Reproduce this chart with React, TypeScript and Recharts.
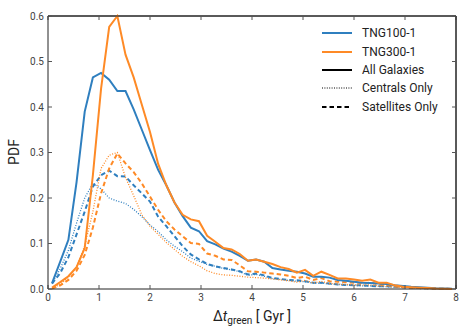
import React from 'react';
import { LineChart, Line, XAxis, YAxis, Legend, ReferenceLine } from 'recharts';

// bin centres of the green-valley time histogram (Gyr)
const tGreen = [
  0.08, 0.24, 0.4, 0.56, 0.72, 0.88, 1.04, 1.2, 1.36, 1.52,
  1.68, 1.84, 2.0, 2.16, 2.32, 2.48, 2.64, 2.8, 2.96, 3.12,
  3.28, 3.44, 3.6, 3.76, 3.92, 4.08, 4.24, 4.4, 4.56, 4.72,
  4.88, 5.04, 5.2, 5.36, 5.52, 5.68, 5.84, 6.0, 6.16, 6.32,
  6.48, 6.64, 6.8, 6.96, 7.12, 7.28, 7.44, 7.6, 7.76, 7.92,
];

const tng100All = [
  0.013, 0.06, 0.108, 0.235, 0.39, 0.465, 0.475, 0.46, 0.435, 0.435,
  0.395, 0.35, 0.305, 0.262, 0.228, 0.19, 0.16, 0.135, 0.127, 0.105,
  0.098, 0.089, 0.082, 0.073, 0.062, 0.065, 0.06, 0.046, 0.043, 0.04,
  0.038, 0.034, 0.027, 0.027, 0.025, 0.02, 0.018, 0.016, 0.014, 0.013,
  0.012, 0.011, 0.008, 0.0066, 0.005, 0.004, 0.003, 0.0015, 0.001, 0.0005,
];
const tng100Cen = [
  0.012, 0.045, 0.085, 0.145, 0.2, 0.232, 0.22, 0.2, 0.193, 0.188,
  0.175, 0.159, 0.141, 0.126, 0.108, 0.094, 0.082, 0.068, 0.061, 0.054,
  0.05, 0.045, 0.042, 0.038, 0.03, 0.032, 0.028, 0.023, 0.021, 0.019,
  0.017, 0.016, 0.013, 0.013, 0.011, 0.01, 0.009, 0.008, 0.007, 0.007,
  0.006, 0.005, 0.004, 0.004, 0.003, 0.002, 0.001, 0.001, 0.0005, 0.0002,
];
const tng100Sat = [
  0.012, 0.035, 0.07, 0.12, 0.17, 0.225, 0.25, 0.26, 0.248, 0.247,
  0.228, 0.21, 0.192, 0.159, 0.138, 0.116, 0.094, 0.076, 0.065, 0.055,
  0.05, 0.046, 0.043, 0.039, 0.032, 0.034, 0.03, 0.024, 0.022, 0.02,
  0.019, 0.017, 0.014, 0.014, 0.012, 0.01, 0.009, 0.008, 0.008, 0.007,
  0.006, 0.006, 0.005, 0.004, 0.003, 0.002, 0.0015, 0.001, 0.0005, 0.0002,
];
const tng300All = [
  0.003, 0.015, 0.028, 0.048, 0.09, 0.25, 0.44, 0.576, 0.6, 0.515,
  0.465, 0.405, 0.345, 0.275, 0.228, 0.19, 0.163, 0.153, 0.149, 0.117,
  0.104, 0.09, 0.087, 0.077, 0.062, 0.065, 0.06, 0.055, 0.048, 0.044,
  0.036, 0.042, 0.029, 0.038, 0.031, 0.023, 0.023, 0.021, 0.018, 0.021,
  0.014, 0.014, 0.008, 0.005, 0.004, 0.003, 0.002, 0.001, 0.0005, 0.0002,
];
const tng300Cen = [
  0.002, 0.01, 0.026, 0.048, 0.095, 0.17, 0.265, 0.294, 0.3, 0.245,
  0.205, 0.163, 0.138, 0.12, 0.102, 0.087, 0.072, 0.06, 0.051, 0.04,
  0.034, 0.031, 0.03, 0.028, 0.026, 0.025, 0.024, 0.022, 0.02, 0.018,
  0.015, 0.019, 0.013, 0.017, 0.012, 0.011, 0.01, 0.009, 0.009, 0.009,
  0.007, 0.006, 0.005, 0.004, 0.003, 0.002, 0.001, 0.001, 0.0005, 0.0002,
];
const tng300Sat = [
  0.001, 0.008, 0.02, 0.04, 0.075, 0.135, 0.21, 0.265, 0.298, 0.276,
  0.257, 0.232, 0.203, 0.174, 0.149, 0.131, 0.116, 0.101, 0.099, 0.078,
  0.073, 0.065, 0.064, 0.052, 0.039, 0.038, 0.036, 0.034, 0.032, 0.029,
  0.024, 0.027, 0.02, 0.024, 0.017, 0.016, 0.015, 0.014, 0.013, 0.014,
  0.01, 0.009, 0.006, 0.004, 0.003, 0.002, 0.0015, 0.001, 0.0005, 0.0002,
];

const xTicks = [0, 1, 2, 3, 4, 5, 6, 7, 8];
const yTicks = [0, 0.1, 0.2, 0.3, 0.4, 0.5, 0.6];

const BLUE = '#2f7fbf';
const ORANGE = '#fe8a26';
const FONT = 'Roboto, "DejaVu Sans", sans-serif';

const legendItems = [
  { label: 'TNG100-1', color: BLUE, dash: undefined, width: 2 },
  { label: 'TNG300-1', color: ORANGE, dash: undefined, width: 2 },
  { label: 'All Galaxies', color: '#000', dash: undefined, width: 2 },
  { label: 'Centrals Only', color: '#000', dash: '1 1.4', width: 1 },
  { label: 'Satellites Only', color: '#000', dash: '4.5 3', width: 2 },
];

const data = tGreen.map((t, i) => ({
  t,
  a100: tng100All[i],
  c100: tng100Cen[i],
  s100: tng100Sat[i],
  a300: tng300All[i],
  c300: tng300Cen[i],
  s300: tng300Sat[i],
}));

const tickStyle = { fontFamily: FONT, fontSize: 10, fill: '#444' };
const frameLine = { stroke: '#222' };
const tickMark = { stroke: '#555' };
const chartMargin = { top: 15, right: 13, bottom: 0, left: 0 };
const legendWrap = { position: 'absolute' as const, left: 322, top: 24, width: 140 };
const fmt1 = (v: number) => v.toFixed(1);
const noLabel = () => <g />;

const renderLegend = () => (
  <div style={{ fontFamily: FONT, fontSize: 12, color: '#222' }}>
    {legendItems.map((it) => (
      <div key={it.label} style={{ display: 'flex', alignItems: 'center', height: 18.4 }}>
        <svg width={30} height={10} style={{ marginRight: 10 }}>
          <line x1={0} x2={30} y1={5} y2={5} stroke={it.color} strokeWidth={it.width} strokeDasharray={it.dash} />
        </svg>
        <span>{it.label}</span>
      </div>
    ))}
  </div>
);

export default function App() {
  return (
    <div style={{ position: 'absolute', left: 0, top: 0, width: 470, height: 336, background: '#fff' }}>
      <LineChart width={470} height={336} data={data} margin={chartMargin}>
        <XAxis
          dataKey="t"
          type="number"
          domain={[0, 8]}
          ticks={xTicks}
          height={47}
          tickSize={-4}
          tickMargin={9}
          tick={tickStyle}
          axisLine={frameLine}
          tickLine={tickMark}
        />
        <XAxis
          xAxisId="top"
          orientation="top"
          dataKey="t"
          type="number"
          domain={[0, 8]}
          ticks={xTicks}
          height={1}
          tickSize={-4}
          tick={noLabel}
          axisLine={frameLine}
          tickLine={tickMark}
        />
        <YAxis
          type="number"
          domain={[0, 0.6]}
          ticks={yTicks}
          width={48}
          tickSize={-4}
          tickMargin={8}
          tick={tickStyle}
          tickFormatter={fmt1}
          axisLine={frameLine}
          tickLine={tickMark}
        />
        <YAxis
          yAxisId="right"
          orientation="right"
          type="number"
          domain={[0, 0.6]}
          ticks={yTicks}
          width={1}
          tickSize={-4}
          tick={noLabel}
          axisLine={frameLine}
          tickLine={tickMark}
        />
        <ReferenceLine y={0.6} stroke="#222" />
        <ReferenceLine x={8} stroke="#222" />
        <Line dataKey="c100" stroke={BLUE} strokeWidth={1.3} strokeDasharray="1 1.6" dot={false} isAnimationActive={false} />
        <Line dataKey="s100" stroke={BLUE} strokeWidth={2} strokeDasharray="4.5 3" dot={false} isAnimationActive={false} />
        <Line xAxisId="top" yAxisId="right" dataKey="c300" stroke={ORANGE} strokeWidth={1.3} strokeDasharray="1 1.6" dot={false} isAnimationActive={false} />
        <Line xAxisId="top" yAxisId="right" dataKey="s300" stroke={ORANGE} strokeWidth={2} strokeDasharray="4.5 3" dot={false} isAnimationActive={false} />
        <Line dataKey="a100" stroke={BLUE} strokeWidth={2} dot={false} isAnimationActive={false} />
        <Line xAxisId="top" yAxisId="right" dataKey="a300" stroke={ORANGE} strokeWidth={2} dot={false} isAnimationActive={false} />
        <Legend
          layout="horizontal"
          align="center"
          verticalAlign="middle"
          content={renderLegend}
          wrapperStyle={legendWrap}
        />
      </LineChart>
      <svg width={470} height={336} style={{ position: 'absolute', left: 0, top: 0, pointerEvents: 'none' }}>
        <text x={14} y={152} transform="rotate(-90 14 152)" textAnchor="middle" dominantBaseline="central" fontFamily={FONT} fontSize={14} fill="#222">
          PDF
        </text>
        <text x={252} y={321} textAnchor="middle" fontFamily={FONT} fontSize={14} fill="#222">
          Δ<tspan fontStyle="italic">t</tspan>
          <tspan fontSize={10} dy={3}>green</tspan>
          <tspan dy={-3}> [ Gyr ]</tspan>
        </text>
      </svg>
    </div>
  );
}
